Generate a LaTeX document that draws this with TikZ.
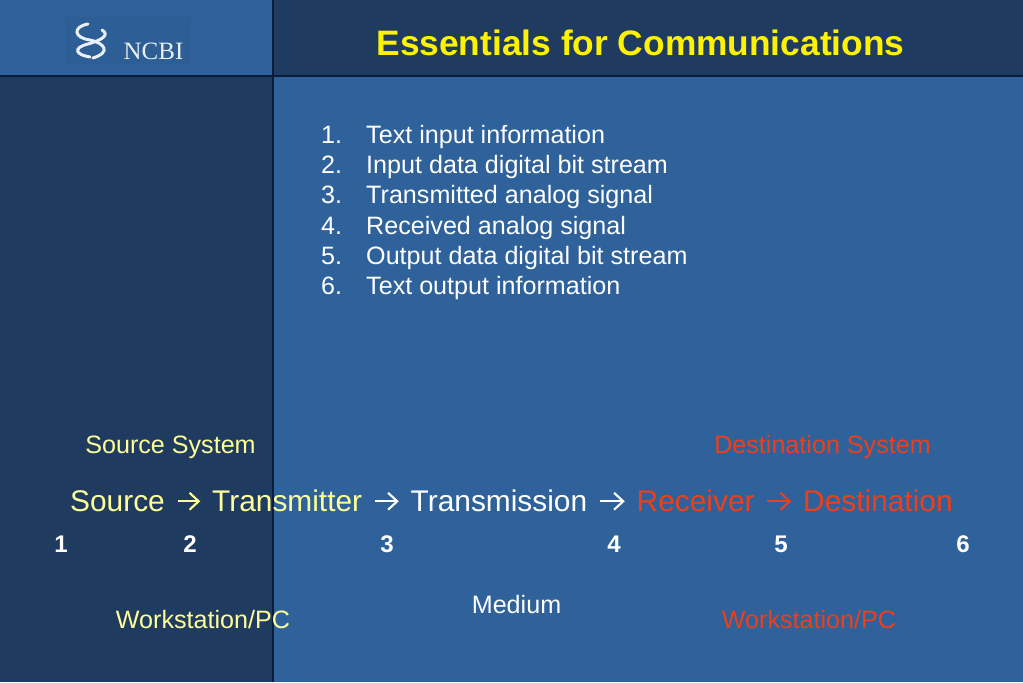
\documentclass[tikz,border=0pt]{standalone}
\usepackage{fontspec}
\usetikzlibrary{arrows.meta}
\setmainfont{Liberation Sans}
\newfontfamily\logofont{Liberation Serif}
\definecolor{paneldark}{HTML}{1F3B60}
\definecolor{panelmid}{HTML}{2F629B}
\definecolor{logoback}{HTML}{2D5F96}
\definecolor{rulecol}{HTML}{0B1B3A}
\definecolor{paleyellow}{HTML}{FFFF99}
\definecolor{destred}{HTML}{EC3F1A}
\tikzset{
  listtext/.style={anchor=base west,text=white,inner sep=0pt,font=\fontsize{7.15pt}{8pt}\selectfont},
  labeltext/.style={anchor=base,inner sep=0pt,font=\fontsize{7.15pt}{8pt}\selectfont},
  flownum/.style={anchor=base,inner sep=0pt,text=white,font=\bfseries\fontsize{6.85pt}{8pt}\selectfont},
  flowtext/.style={anchor=base west,inner sep=0pt,text height=6.1pt,text depth=0pt,font=\fontsize{8.5pt}{10pt}\selectfont},
  flowarrow/.style={-{Straight Barb[length=2.6pt,width=4.8pt]},line width=.6pt,shorten <=3.4pt,shorten >=3.2pt}
}

\begin{document}
\begin{tikzpicture}
    \useasboundingbox (0,0) rectangle (10.23,6.82);
    % panels
    \fill[panelmid] (0,0) rectangle (10.23,6.82);
    \fill[paneldark] (0,0) rectangle (2.73,6.06);
    \fill[paneldark] (2.73,6.06) rectangle (10.23,6.82);
    \draw[rulecol, line width=.3pt] (0,6.06) -- (10.23,6.06);
    \draw[rulecol, line width=.3pt] (2.73,0) -- (2.73,6.82);
    % logo
    \fill[logoback] (.65,6.17) rectangle (1.91,6.65);
    \draw[white!90!panelmid, line width=.85pt, line cap=round]
      (.88,6.58) .. controls (.72,6.55) and (.74,6.44) .. (.90,6.42)
      .. controls (1.04,6.39) and (1.12,6.30) .. (.93,6.24);
    \draw[white!90!panelmid, line width=.85pt, line cap=round]
      (1.02,6.52) .. controls (1.10,6.47) and (1.02,6.42) .. (.88,6.38)
      .. controls (.72,6.34) and (.76,6.27) .. (.90,6.25);
    \node[anchor=base west, inner sep=0pt, text=white!90!panelmid, font=\logofont\fontsize{7.1pt}{8pt}\selectfont] (logotext) at (1.23,6.225) {NCBI};
    % title
    \node[anchor=base, inner sep=0pt, text=yellow, font=\bfseries\fontsize{10.05pt}{11pt}\selectfont] (title) at (6.405,6.26) {Essentials for Communications};
    % numbered list
    \foreach \num/\txt [count=\i] in {1/Text input information, 2/Input data digital bit stream,
      3/Transmitted analog signal, 4/Received analog signal,
      5/Output data digital bit stream, 6/Text output information} {
      \node[listtext] (num\i) at (3.205,{5.385-(\i-1)*.302}) {\num.};
      \node[listtext] (item\i) at (3.655,{5.385-(\i-1)*.302}) {\txt};
    }
    % system labels
    \node[labeltext, text=paleyellow] (sourcesys) at (1.705,2.28) {Source System};
    \node[labeltext, text=destred] (destsys) at (8.225,2.28) {Destination System};
    % flow line
    \node[flowtext, text=paleyellow] (source) at (.695,1.70) {Source};
    \node[flowtext, text=paleyellow] (transmitter) at (2.115,1.70) {Transmitter};
    \node[flowtext, text=white] (transmission) at (4.10,1.70) {Transmission};
    \node[flowtext, text=destred] (receiver) at (6.36,1.70) {Receiver};
    \node[flowtext, text=destred] (destination) at (8.025,1.70) {Destination};
    \draw[flowarrow, paleyellow] (source) -- (transmitter);
    \draw[flowarrow, white] (transmitter) -- (transmission);
    \draw[flowarrow, white] (transmission) -- (receiver);
    \draw[flowarrow, destred] (receiver) -- (destination);
    % numbers
    \foreach \num/\x in {1/.61, 2/1.90, 3/3.87, 4/6.14, 5/7.81, 6/9.63} {
      \node[flownum] (step\num) at (\x,1.29) {\num};
    }
    % lower labels
    \node[labeltext, text=paleyellow] (sourcepc) at (2.03,.535) {Workstation/PC};
    \node[labeltext, text=white] (medium) at (5.165,.685) {Medium};
    \node[labeltext, text=destred] (destpc) at (8.09,.535) {Workstation/PC};
\end{tikzpicture}
\end{document}
